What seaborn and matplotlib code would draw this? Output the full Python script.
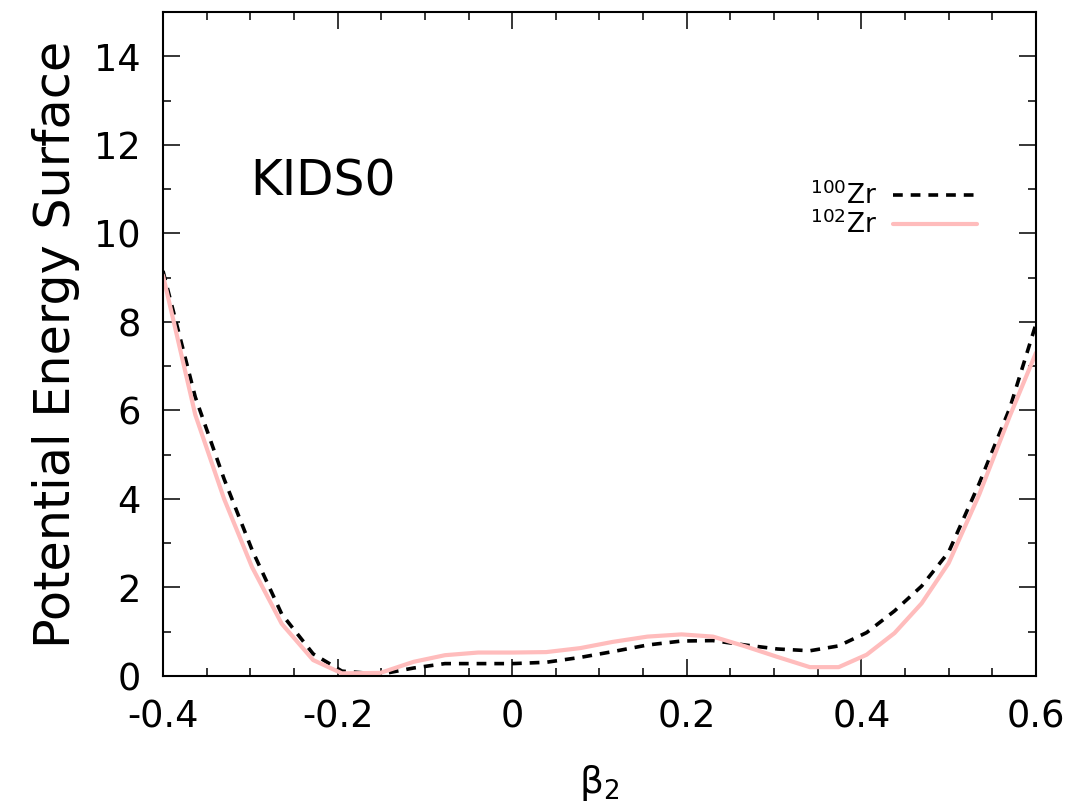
import numpy as np
import pandas as pd
import matplotlib
matplotlib.use("Agg")
import matplotlib.pyplot as plt
from matplotlib.ticker import MultipleLocator
import seaborn as sns

# Quadrupole deformation grid and potential energy (MeV) along it
beta2 = [-0.400, -0.363, -0.330, -0.298, -0.264, -0.228, -0.195, -0.151, -0.113,
         -0.077, -0.039, 0.001, 0.039, 0.078, 0.115, 0.155, 0.194, 0.230, 0.267,
         0.304, 0.341, 0.374, 0.406, 0.438, 0.469, 0.500, 0.535, 0.570, 0.600]
pes_zr100 = [9.15, 6.30, 4.45, 2.85, 1.40, 0.50, 0.11, 0.04, 0.18,
             0.28, 0.28, 0.28, 0.31, 0.42, 0.55, 0.70, 0.79, 0.80, 0.70,
             0.61, 0.57, 0.68, 0.98, 1.47, 2.03, 2.80, 4.35, 6.05, 7.95]
pes_zr102 = [9.05, 5.90, 4.00, 2.46, 1.18, 0.36, 0.06, 0.07, 0.32,
             0.47, 0.53, 0.53, 0.54, 0.63, 0.77, 0.89, 0.94, 0.89, 0.67,
             0.43, 0.20, 0.20, 0.48, 0.97, 1.64, 2.55, 4.10, 5.87, 7.30]
labels = [r"$^{100}$Zr", r"$^{102}$Zr"]
model_name = "KIDS0"

df = pd.DataFrame({
    "beta2": beta2 * 2,
    "pes": pes_zr100 + pes_zr102,
    "nucleus": [labels[0]] * len(beta2) + [labels[1]] * len(beta2),
})

sns.set_theme(style="ticks")
plt.rcParams["font.family"] = ["DejaVu Sans"]
plt.rcParams["mathtext.fontset"] = "dejavusans"
plt.rcParams["text.color"] = "black"
plt.rcParams["axes.labelcolor"] = "black"
plt.rcParams["xtick.color"] = "black"
plt.rcParams["ytick.color"] = "black"

fig = plt.figure(figsize=(10.78, 8.09), dpi=100)
ax = fig.add_axes([0.1512, 0.1644, 0.8098, 0.8208])

sns.lineplot(data=df[df.nucleus == labels[0]], x="beta2", y="pes", ax=ax,
             color="black", linewidth=2.6, estimator=None, label=labels[0])
sns.lineplot(data=df[df.nucleus == labels[1]], x="beta2", y="pes", ax=ax,
             color="#ffbcbc", linewidth=3.0, estimator=None, label=labels[1])
ax.lines[0].set_dashes((2.7, 2.2))

ax.set_xlim(-0.4, 0.6)
ax.set_ylim(0, 15)
ax.xaxis.set_minor_locator(MultipleLocator(0.05))
ax.yaxis.set_minor_locator(MultipleLocator(1))
ax.set_yticks([0, 2, 4, 6, 8, 10, 12, 14])
ax.set_xticks([-0.4, -0.2, 0, 0.2, 0.4, 0.6])
ax.set_xticklabels(["-0.4", "-0.2", "0", "0.2", "0.4", "0.6"])

ax.tick_params(which="both", direction="in", top=True, right=True,
               color="black", width=1.1)
ax.tick_params(which="major", length=12, labelsize=26.5, pad=16,
               labelcolor="black")
ax.tick_params(which="minor", length=6)
for sp in ax.spines.values():
    sp.set_visible(True)
    sp.set_linewidth(1.5)
    sp.set_color("black")

ax.set_xlabel("β$_2$", fontsize=27, labelpad=20)
ax.set_ylabel("Potential Energy Surface", fontsize=35.5, labelpad=10)

ax.text(0.1, 0.745, model_name, transform=ax.transAxes, fontsize=35,
        ha="left", va="center")

leg = ax.legend(loc="upper right", bbox_to_anchor=(0.96, 0.78),
                frameon=False, markerfirst=False, fontsize=19,
                handlelength=3.2, handletextpad=0.6, labelspacing=0.0)

fig.savefig("out.png", dpi=100)
